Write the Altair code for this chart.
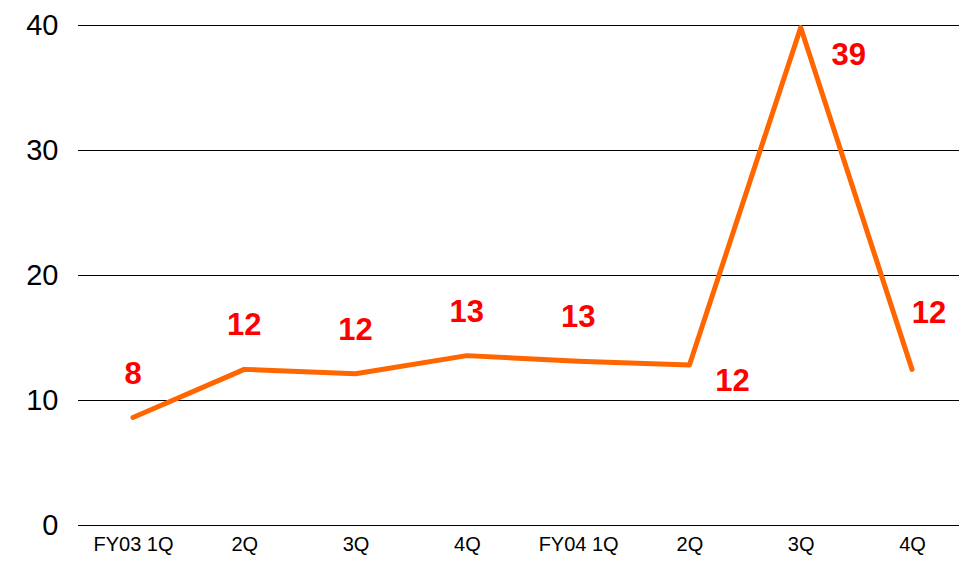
import altair as alt
import pandas as pd

quarters = ["FY03 1Q", "2Q", "3Q", "4Q", "FY04 1Q", "2Q ", "3Q ", "4Q "]
values = [8.6, 12.45, 12.1, 13.55, 13.1, 12.8, 39.8, 12.45]
grid_values = [0, 10, 20, 30, 40]

df = pd.DataFrame({"q": quarters, "v": values, "i": list(range(len(values)))})
gdf = pd.DataFrame({"g": grid_values})

FONT = "Liberation Sans"
W, H = 881, 500

x = alt.X("q:N", sort=quarters, title=None,
          scale=alt.Scale(type="point", range=[55, 834], padding=0),
          axis=alt.Axis(labelAngle=0, labelFontSize=20, labelColor="black", labelFont=FONT,
                        ticks=False, domain=False, labelPadding=9, grid=False))
yscale = alt.Scale(domain=[0, 40], nice=False)
yaxis = alt.Axis(values=grid_values, labelFontSize=29, labelColor="black",
                 labelFont=FONT, ticks=False, domain=False, labelPadding=20, grid=False)
y = alt.Y("v:Q", title=None, scale=yscale, axis=yaxis)

grid = alt.Chart(gdf).mark_rule(color="black", strokeWidth=1, yOffset=0.5).encode(
    y=alt.Y("g:Q", title=None, scale=yscale, axis=yaxis),
    x=alt.value(0), x2=alt.value(W),
)

base = alt.Chart(df).encode(x=x, y=y)

line = base.mark_line(color="#FF6600", strokeWidth=5, strokeCap="round", strokeJoin="round")

def labels(cond, dx, dy):
    return base.transform_filter(cond).transform_calculate(
        lab="floor(datum.v)"
    ).mark_text(color="#FF0000", fontSize=31, fontWeight="bold", font=FONT,
                dx=dx, dy=dy, baseline="middle", align="center").encode(text="lab:N")

t1 = labels("datum.i <= 4", 0, -43)
t2 = labels("datum.i == 5", 43, 17)
t3 = labels("datum.i == 6", 48, 28)
t4 = labels("datum.i == 7", 17, -55)

chart = alt.layer(grid, line, t1, t2, t3, t4).properties(
    width=W, height=H,
    autosize=alt.AutoSizeParams(type="none"),
    padding={"left": 70, "top": 17, "right": 0, "bottom": 31},
).configure(background="white").configure_view(stroke=None)

chart.save("out.html", embed_options={"renderer": "svg", "actions": False})
